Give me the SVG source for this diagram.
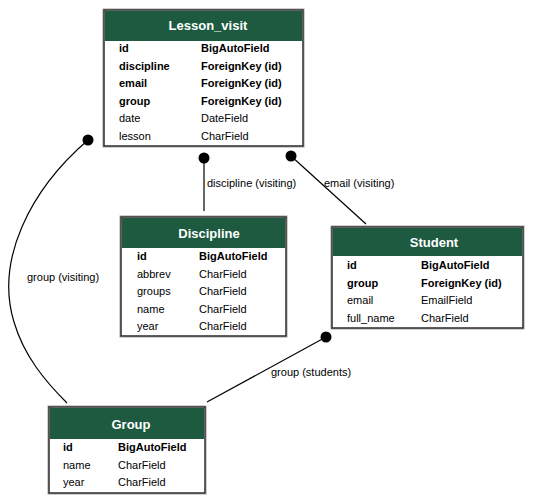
<svg xmlns="http://www.w3.org/2000/svg" width="540" height="503" viewBox="0 0 540 503">
<style>
.box{fill:#fff;stroke:#2a2a2a;stroke-width:1.5}
.shadow{fill:none;stroke:#a0a0a0;stroke-width:1}
.hdr{fill:#1d5a40}
.title{font-family:"Liberation Sans",Arial,sans-serif;font-size:13px;font-weight:bold;fill:#fff;text-anchor:middle}
.f{font-family:"Liberation Sans",Arial,sans-serif;font-size:11px;fill:#000}
.b{font-weight:bold}
.lbl{font-family:"Liberation Sans",Arial,sans-serif;font-size:11px;fill:#000}
.edge{fill:none;stroke:#000;stroke-width:1.2}
.dot{fill:#000}
</style>
<rect width="540" height="503" fill="#fff"/>
<g id="connectors">
<path class="edge" d="M204,158 L204,211"/>
<circle class="dot" cx="204" cy="158" r="5.5"/>
<text class="lbl" x="207" y="187">discipline (visiting)</text>
<path class="edge" d="M291,156 L366,224"/>
<circle class="dot" cx="291" cy="156" r="5.5"/>
<text class="lbl" x="324" y="187">email (visiting)</text>
<path class="edge" d="M88,140 C30,190 -5,260 14,322 C24,356 45,381 67,403"/>
<circle class="dot" cx="88" cy="140" r="5.5"/>
<text class="lbl" x="27" y="281">group (visiting)</text>
<path class="edge" d="M326,337 L207,402"/>
<circle class="dot" cx="326" cy="337" r="5.5"/>
<text class="lbl" x="271" y="376">group (students)</text>
</g>
<g id="Lesson_visit">
<rect class="shadow" x="103" y="9" width="201" height="138"/>
<rect class="box" x="104" y="10" width="199" height="136"/>
<rect class="hdr" x="105" y="11" width="197" height="30"/>
<text class="title" x="208" y="30">Lesson_visit</text>
<text class="f b" x="119" y="52">id</text><text class="f b" x="201" y="52">BigAutoField</text>
<text class="f b" x="119" y="69.5">discipline</text><text class="f b" x="201" y="69.5">ForeignKey (id)</text>
<text class="f b" x="119" y="87">email</text><text class="f b" x="201" y="87">ForeignKey (id)</text>
<text class="f b" x="119" y="104.5">group</text><text class="f b" x="201" y="104.5">ForeignKey (id)</text>
<text class="f" x="119" y="122">date</text><text class="f" x="201" y="122">DateField</text>
<text class="f" x="119" y="139.5">lesson</text><text class="f" x="201" y="139.5">CharField</text>
</g>
<g id="Discipline">
<rect class="shadow" x="120" y="216" width="167" height="121"/>
<rect class="box" x="121" y="217" width="165" height="119"/>
<rect class="hdr" x="122" y="218" width="163" height="30"/>
<text class="title" x="209" y="238">Discipline</text>
<text class="f b" x="137" y="260">id</text><text class="f b" x="199" y="260">BigAutoField</text>
<text class="f" x="137" y="277.5">abbrev</text><text class="f" x="199" y="277.5">CharField</text>
<text class="f" x="137" y="295">groups</text><text class="f" x="199" y="295">CharField</text>
<text class="f" x="137" y="312.5">name</text><text class="f" x="199" y="312.5">CharField</text>
<text class="f" x="137" y="330">year</text><text class="f" x="199" y="330">CharField</text>
</g>
<g id="Student">
<rect class="shadow" x="331" y="226" width="193" height="103"/>
<rect class="box" x="332" y="227" width="191" height="101"/>
<rect class="hdr" x="333" y="228" width="189" height="28"/>
<text class="title" x="434" y="246.5">Student</text>
<text class="f b" x="347" y="269">id</text><text class="f b" x="421" y="269">BigAutoField</text>
<text class="f b" x="347" y="286.5">group</text><text class="f b" x="421" y="286.5">ForeignKey (id)</text>
<text class="f" x="347" y="304">email</text><text class="f" x="421" y="304">EmailField</text>
<text class="f" x="347" y="321.5">full_name</text><text class="f" x="421" y="321.5">CharField</text>
</g>
<g id="Group">
<rect class="shadow" x="48" y="406" width="158" height="88"/>
<rect class="box" x="49" y="407" width="156" height="86"/>
<rect class="hdr" x="50" y="408" width="154" height="31"/>
<text class="title" x="131" y="428.5">Group</text>
<text class="f b" x="63" y="451">id</text><text class="f b" x="118" y="451">BigAutoField</text>
<text class="f" x="63" y="468.5">name</text><text class="f" x="118" y="468.5">CharField</text>
<text class="f" x="63" y="486">year</text><text class="f" x="118" y="486">CharField</text>
</g>
</svg>
